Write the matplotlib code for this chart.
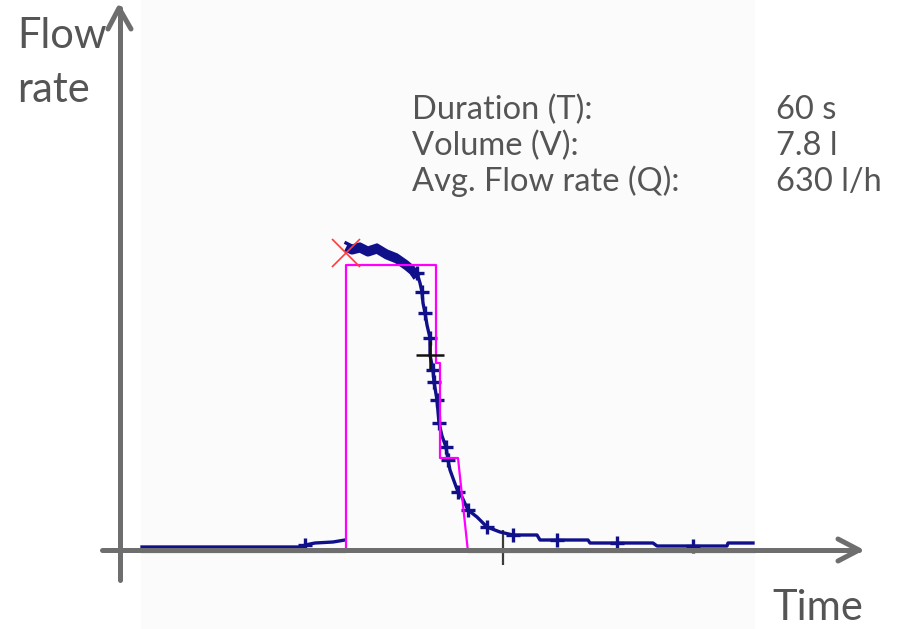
import matplotlib
matplotlib.use('Agg')
import matplotlib.pyplot as plt
from matplotlib import transforms
from matplotlib.patches import Rectangle

# Measured flow rate over time (t in s, q in l/h); NaN splits the trace
flow_t = [0.0, 16.1, 16.3, 17.3, 19.1, 20.3, float('nan'),
          20.4, 21.0, 21.8, 22.6, 23.5,
          24.5, 25.5, 26.5, 27.1, 27.5, 27.8, 28.0, 28.1, 28.3, 28.5, 28.8,
          28.8, 29.1, 29.2, 29.5, 29.7, 30.0, 30.4, 30.6, 30.8, 31.6, 32.0,
          32.6, 33.5, 34.5, 35.8, 37.1, 39.5, 39.8, 41.5, 44.6, 44.8, 47.5,
          51.1, 51.5, 55.1, 58.5, 58.6, 61.1]
flow_q = [5, 5, 15, 25, 30, 40, float('nan'),
          1525, 1510, 1520, 1500, 1515,
          1485, 1465, 1430, 1405, 1375, 1325, 1280, 1225, 1175, 1115, 1050,
          965, 890, 830, 740, 625, 560, 505, 440, 390, 280, 255,
          190, 155, 105, 80, 65, 65, 40, 40, 40, 25, 25,
          25, 10, 10, 10, 25, 25]
flow_marked = [2, 16, 18, 20, 22, 24, 25, 26, 27, 29, 30, 32, 34, 36, 38,
               41, 44, 47]
plateau = slice(7, 17)

# Stepped (binned) flow rate
step_t = [0.0, 20.4, 20.4, 29.4, 29.4, 29.8, 29.8, 31.6, 32.6, 61.3]
step_q = [0, 0, 1435, 1435, 945, 945, 470, 470, 0, 0]

start_t, start_q = 20.4, 1475
mid_t, mid_q = 28.8, 965
tick_t = 36.1

stat_labels = ['Duration (T):', 'Volume (V):', 'Avg. Flow rate (Q):']
stat_values = ['60 s', '7.8 l', '630 l/h']

W, H = 909, 629
FONT = ['Lato', 'DejaVu Sans']
TEXT_COLOR = '#555555'
AXIS_COLOR = '#6e6e6e'
NAVY = '#10108a'

fig = plt.figure(figsize=(W / 100, H / 100), dpi=100)
fig.patch.set_facecolor('white')

# faint plot panel behind the curves
fig.add_artist(Rectangle((141 / W, 0), (755 - 141) / W, 1,
                         transform=fig.transFigure, facecolor='#fbfbfc',
                         edgecolor='none', zorder=-1))

# data axes: 0..61.3 s over px 142..755, 0..1525 l/h over py 548..243
ax = fig.add_axes([142 / W, (H - 548) / H, 613 / W, 305 / H])
ax.set_xlim(0, 61.3)
ax.set_ylim(0, 1525)
ax.axis('off')
ax.patch.set_visible(False)

ax.plot(flow_t, flow_q, color=NAVY, linewidth=2.4, clip_on=False,
        marker='+', markersize=10, markeredgewidth=2.4, markevery=flow_marked,
        zorder=3)
# noisy readings thicken the trace along the plateau
ax.plot(flow_t[plateau], [q - 22 for q in flow_q[plateau]], color=NAVY,
        linewidth=6, solid_capstyle='butt', clip_on=False, zorder=3)
pink_tr = transforms.offset_copy(ax.transData, fig=fig, x=0, y=-4, units='dots')
ax.plot(step_t, step_q, color='#ff00ff', linewidth=1.6, transform=pink_tr,
        clip_on=False, zorder=4)
ax.plot([start_t], [start_q], marker='x', markersize=20, markeredgewidth=1.2,
        color='#ff3b3b', clip_on=False, zorder=5)
ax.plot([mid_t], [mid_q], marker='+', markersize=20, markeredgewidth=1.8,
        color='#111111', clip_on=False, zorder=5)
ax.vlines(tick_t, -85, 90, color='#3c3c3c', linewidth=1.6, zorder=1,
          clip_on=False)

# overlay in pixel coordinates for axes arrows and labels
ov = fig.add_axes([0, 0, 1, 1])
ov.set_xlim(0, W)
ov.set_ylim(H, 0)
ov.axis('off')
ov.patch.set_visible(False)

kw = dict(color=AXIS_COLOR, linewidth=3.6, solid_capstyle='round',
          solid_joinstyle='round')
ov.plot([120, 120], [580, 8], **kw)
ov.plot([108, 119, 131], [29, 8, 29], **kw)
ov.plot([102, 859], [550, 550], **kw)
ov.plot([838, 859, 838], [539, 550, 561], **kw)

ov.text(17, 48, 'Flow', fontsize=30, color=TEXT_COLOR, family=FONT,
        va='baseline')
ov.text(17, 102, 'rate', fontsize=30, color=TEXT_COLOR, family=FONT,
        va='baseline')
ov.text(772, 620, 'Time', fontsize=30, color=TEXT_COLOR, family=FONT,
        va='baseline')

for i, (lab, val) in enumerate(zip(stat_labels, stat_values)):
    y = 119 + 36 * i
    ov.text(412, y, lab, fontsize=23.5, color=TEXT_COLOR, family=FONT,
            va='baseline')
    ov.text(776, y, val, fontsize=23.5, color=TEXT_COLOR, family=FONT,
            va='baseline')

fig.savefig('out.png', dpi=100)
plt.close(fig)
